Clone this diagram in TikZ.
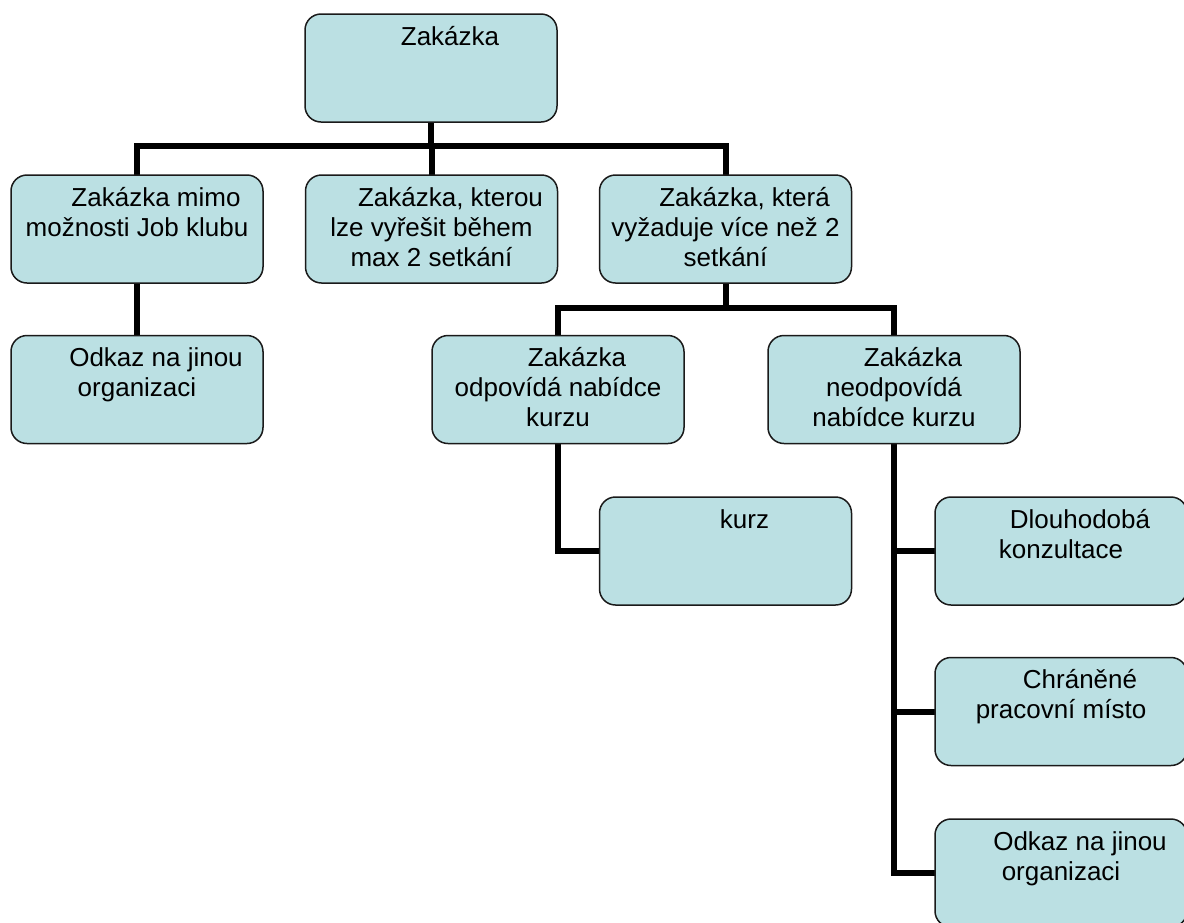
\documentclass[tikz,border=0pt]{standalone}
\usepackage{fontspec}
\setmainfont{Liberation Sans}
\usetikzlibrary{positioning, calc, backgrounds}
\definecolor{cardFill}{HTML}{BBE0E3}
\definecolor{cardEdge}{HTML}{1A1A1A}
\newcommand{\cardtext}[1]{\parbox[c][54pt][t]{126pt}{\centering\rule{0pt}{15.5pt}#1}}
\newcommand{\firstpad}{\hspace*{19pt}}
\tikzset{
  card/.style={rectangle, rounded corners=8pt, draw=cardEdge, fill=cardFill,
               line width=0.75pt, inner sep=0pt, font=\fontsize{13}{15}\selectfont},
  wire/.style={line width=3pt, black, line cap=rect},
}

\begin{document}
\begin{tikzpicture}[x=0.5pt, y=-0.5pt]
  \useasboundingbox (0,0) rectangle (1184,922);
  % level 0
  \node[card] (root) at (431,68) {\cardtext{\firstpad Zakázka}};
  % level 1
  \node[card] (mimo)   at (137,229)   {\cardtext{\firstpad Zakázka mimo\\možnosti Job klubu}};
  \node[card] (kratka) at (431.5,229) {\cardtext{\firstpad Zakázka, kterou\\lze vyřešit během\\max 2 setkání}};
  \node[card] (delsi)  at (725.5,229) {\cardtext{\firstpad Zakázka, která\\vyžaduje více než 2\\setkání}};
  % level 2
  \node[card] (odkazL) at (137,389.5) {\cardtext{\firstpad Odkaz na jinou\\organizaci}};
  \node[card] (odpov)  at (558,389.5) {\cardtext{\firstpad Zakázka\\odpovídá nabídce\\kurzu}};
  \node[card] (neodp)  at (894,389.5) {\cardtext{\firstpad Zakázka\\neodpovídá\\nabídce kurzu}};
  % level 3
  \node[card] (kurz)   at (725.5,551) {\cardtext{\firstpad kurz}};
  \node[card] (konz)   at (1061,551)  {\cardtext{\firstpad Dlouhodobá\\konzultace}};
  \node[card] (misto)  at (1061,711.5) {\cardtext{\firstpad Chráněné\\pracovní místo}};
  \node[card] (odkazR) at (1061,873)  {\cardtext{\firstpad Odkaz na jinou\\organizaci}};

  \coordinate (bus1) at (431,146);
  \coordinate (bus2) at (725.5,308);
  \begin{scope}[on background layer]
    \draw[wire] (root.south) -- (bus1);
    \draw[wire] (mimo.north) |- (bus1) -| (delsi.north);
    \draw[wire] (kratka.north) -- (kratka.north |- bus1);
    \draw[wire] (mimo.south) -- (odkazL.north);
    \draw[wire] (delsi.south) -- (bus2);
    \draw[wire] (odpov.north) |- (bus2) -| (neodp.north);
    \draw[wire] (odpov.south) |- (kurz.west);
    \draw[wire] (neodp.south) |- (odkazR.west);
    \draw[wire] (konz.west) -- (konz.west -| neodp.south);
    \draw[wire] (misto.west) -- (misto.west -| neodp.south);
  \end{scope}
\end{tikzpicture}
\end{document}
